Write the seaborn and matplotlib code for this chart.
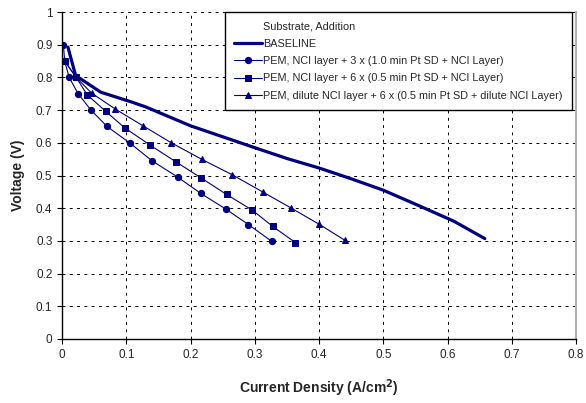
import matplotlib
matplotlib.use("Agg")
import matplotlib.pyplot as plt
from matplotlib.lines import Line2D
import pandas as pd
import seaborn as sns

# polarization curves
baseline_j = [0.009, 0.021, 0.06, 0.108, 0.13, 0.2, 0.3, 0.35, 0.4, 0.45, 0.5, 0.555, 0.61, 0.658]
baseline_v = [0.893, 0.806, 0.755, 0.725, 0.71, 0.652, 0.585, 0.552, 0.523, 0.49, 0.455, 0.408, 0.36, 0.307]

circle_j = [0.002, 0.004, 0.011, 0.025, 0.045, 0.07, 0.105, 0.14, 0.18, 0.216, 0.255, 0.29, 0.326]
circle_v = [0.9, 0.85, 0.8, 0.75, 0.7, 0.65, 0.6, 0.545, 0.495, 0.445, 0.397, 0.35, 0.299]

square_j = [0.004, 0.022, 0.039, 0.068, 0.098, 0.137, 0.177, 0.216, 0.256, 0.296, 0.328, 0.363]
square_v = [0.85, 0.8, 0.747, 0.696, 0.645, 0.593, 0.542, 0.493, 0.442, 0.394, 0.344, 0.295]

tri_j = [0.004, 0.022, 0.046, 0.083, 0.126, 0.17, 0.217, 0.265, 0.312, 0.356, 0.40, 0.44]
tri_v = [0.85, 0.8, 0.752, 0.703, 0.652, 0.6, 0.55, 0.502, 0.45, 0.401, 0.351, 0.302]

legend_title = "Substrate, Addition"
labels = [
    "BASELINE",
    "PEM, NCI layer + 3 x (1.0 min Pt SD + NCI Layer)",
    "PEM, NCI layer + 6 x (0.5 min Pt SD + NCI Layer)",
    "PEM, dilute NCI layer + 6 x (0.5 min Pt SD + dilute NCI Layer)",
]

x_ticks = [0, 0.1, 0.2, 0.3, 0.4, 0.5, 0.6, 0.7, 0.8]
y_ticks = [0, 0.1, 0.2, 0.3, 0.4, 0.5, 0.6, 0.7, 0.8, 0.9, 1]

NAVY = "#000080"

sns.set_style("white")
plt.rcParams["font.family"] = ["Liberation Sans", "DejaVu Sans"]

fig, ax = plt.subplots(figsize=(5.86, 4.03), dpi=100)
fig.subplots_adjust(left=0.106, right=0.983, top=0.970, bottom=0.159)

series = [
    (baseline_j, baseline_v, None, 2.3),
    (circle_j, circle_v, "o", 0.8),
    (square_j, square_v, "s", 0.8),
    (tri_j, tri_v, "^", 0.8),
]
for (j, v, mk, lw), lab in zip(series, labels):
    df = pd.DataFrame({"j": j, "v": v})
    sns.lineplot(data=df, x="j", y="v", ax=ax, sort=False, estimator=None,
                 color=NAVY, linewidth=lw, marker=mk, markersize=4.5,
                 markeredgecolor=NAVY, label=lab)

ax.set_xlim(0, 0.8)
ax.set_ylim(0, 1)
ax.set_xticks(x_ticks)
ax.set_yticks(y_ticks)
ax.set_xticklabels([f"{t:g}" for t in x_ticks])
ax.set_yticklabels([f"{t:g}" for t in y_ticks])
ax.tick_params(axis="both", labelsize=8.5, direction="out", length=3.5, width=0.8,
               color="black", left=True, bottom=True)

ax.grid(True, color="black", linestyle=(0, (3, 4.5)), linewidth=0.7)
ax.spines["top"].set_visible(False)
ax.spines["right"].set_color("#b0b0b0")
ax.spines["right"].set_linewidth(1.5)
for s in ("left", "bottom"):
    ax.spines[s].set_color("black")
    ax.spines[s].set_linewidth(1.0)

ax.set_xlabel("Current Density (A/cm$^\\mathbf{2}$)", fontsize=10, fontweight="bold", labelpad=12)
ax.set_ylabel("Voltage (V)", fontsize=10, fontweight="bold", labelpad=8)

handles, labs = ax.get_legend_handles_labels()
blank = Line2D([], [], linestyle="none", marker=None)
leg = ax.legend([blank] + handles, [legend_title] + labs, loc="upper right",
                bbox_to_anchor=(0.992, 1.0), borderaxespad=0, fontsize=7.8,
                frameon=True, fancybox=False, framealpha=1, edgecolor="black",
                handlelength=2.6, handletextpad=0.1, labelspacing=0.68,
                borderpad=0.85)
leg.get_frame().set_linewidth(1.0)

fig.savefig("out.png", dpi=100)
